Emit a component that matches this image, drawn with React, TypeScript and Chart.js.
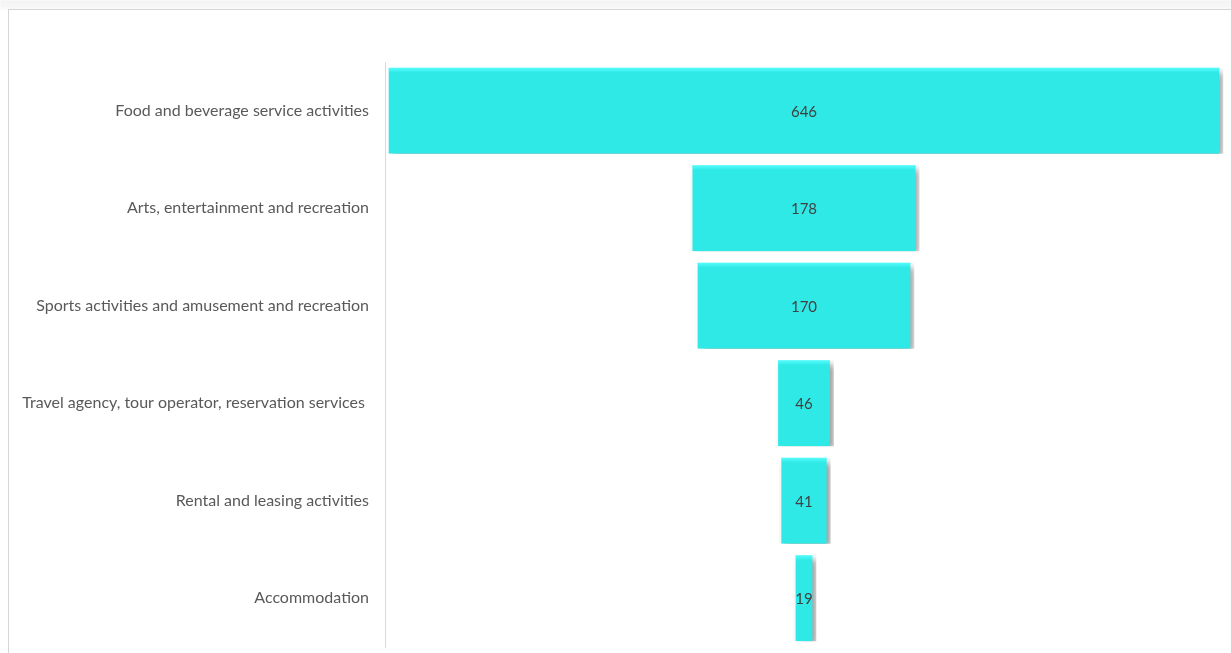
import React, { useEffect, useRef } from "react";
import { Chart, registerables } from "chart.js";

Chart.register(...registerables);

const categories = [
  "Food and beverage service activities",
  "Arts, entertainment and recreation",
  "Sports activities and amusement and recreation",
  "Travel agency, tour operator, reservation services ",
  "Rental and leasing activities",
  "Accommodation",
];
const values = [646, 178, 170, 46, 41, 19];

const BAR_COLOR = "#2FE9E6";
const LABEL_COLOR = "#595959";
const VALUE_COLOR = "#404040";
const FONT = "Lato, 'Noto Sans', sans-serif";

const shadowPlugin = {
  id: "barShadow",
  beforeDatasetsDraw(chart: any) {
    const ctx = chart.ctx;
    ctx.save();
    ctx.shadowColor = "rgba(0,0,0,0.4)";
    ctx.shadowOffsetX = 4;
    ctx.shadowOffsetY = 4;
    ctx.shadowBlur = 7;
  },
  afterDatasetsDraw(chart: any) {
    const ctx = chart.ctx;
    ctx.restore();
    const meta = chart.getDatasetMeta(0);
    ctx.save();
    meta.data.forEach((bar: any, i: number) => {
      const left = Math.min(bar.x, bar.base) + 4;
      const right = Math.max(bar.x, bar.base) - 4;
      const top = bar.y - bar.height / 2;
      const g = ctx.createLinearGradient(0, top, 0, top + 5);
      g.addColorStop(0, "rgba(90,255,255,0.9)");
      g.addColorStop(1, "rgba(90,255,255,0)");
      ctx.fillStyle = g;
      ctx.fillRect(left, top, right - left, 5);
      ctx.fillStyle = VALUE_COLOR;
      ctx.font = `15px ${FONT}`;
      ctx.textAlign = "center";
      ctx.textBaseline = "middle";
      ctx.fillText(String(values[i]), (left + right) / 2, bar.y + 1);
    });
    ctx.restore();
  },
};

export default function App() {
  const ref = useRef<HTMLCanvasElement | null>(null);

  useEffect(() => {
    if (!ref.current) return;
    const chart = new Chart(ref.current, {
      type: "bar",
      data: {
        labels: categories,
        datasets: [
          {
            data: values.map((v) => [-v / 2, v / 2]) as any,
            backgroundColor: BAR_COLOR,
            borderColor: "rgba(0,0,0,0)",
            borderWidth: { left: 4, right: 4, top: 0, bottom: 0 } as any,
            borderSkipped: false,
            barPercentage: 0.883,
            categoryPercentage: 1,
          },
        ],
      },
      options: {
        indexAxis: "y",
        animation: false,
        responsive: false,
        maintainAspectRatio: false,
        layout: { padding: { top: 51, bottom: 6, left: 0, right: 0 } },
        plugins: {
          legend: { display: false },
          tooltip: { enabled: false },
        },
        scales: {
          x: {
            display: false,
            min: -322.8,
            max: 329,
          },
          y: {
            grid: { display: true, drawOnChartArea: false, drawTicks: false },
            border: { display: true, color: "#d9d9d9", width: 1 },
            ticks: {
              color: LABEL_COLOR,
              font: { family: FONT, size: 16 },
              padding: 16,
            },
            afterFit(axis: any) {
              axis.width = 376;
              axis.paddingTop = 0;
              axis.paddingBottom = 0;
            },
          },
        },
      },
      plugins: [shadowPlugin],
    } as any);
    return () => chart.destroy();
  }, []);

  return (
    <div
      style={{
        position: "fixed",
        left: 0,
        top: 0,
        width: 1231,
        height: 653,
        overflow: "hidden",
        background: "#fff",
      }}
    >
      <div
        style={{
          position: "absolute",
          left: 0,
          top: 0,
          width: 1231,
          height: 10,
          background:
            "linear-gradient(to bottom, rgba(0,0,0,0.05), rgba(0,0,0,0.02))",
          filter: "blur(1px)",
        }}
      />
      <div
        style={{
          position: "absolute",
          left: 8,
          top: 9,
          width: 1240,
          height: 700,
          borderTop: "1px solid #d6d6d6",
          borderLeft: "1px solid #d6d6d6",
          background: "#fff",
        }}
      >
        <canvas ref={ref} width={1222} height={642} style={{ display: "block", position: "absolute", left: 0, top: 1 }} />
      </div>
    </div>
  );
}
